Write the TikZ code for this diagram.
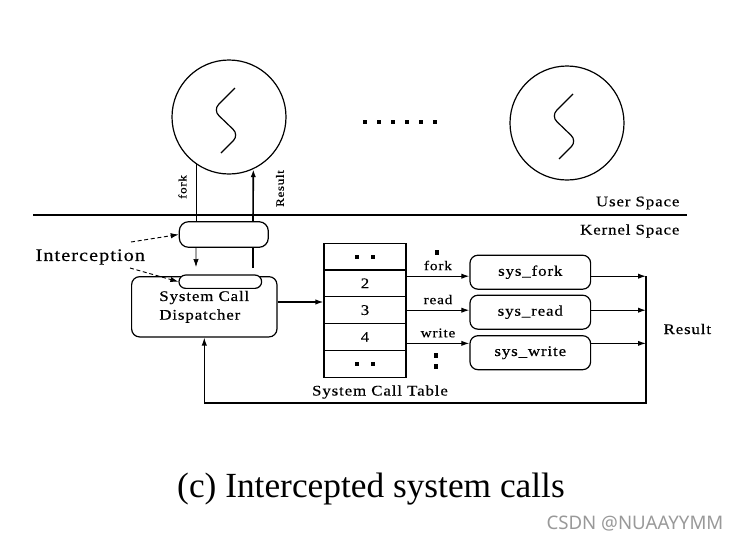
\documentclass[tikz,border=0pt]{standalone}
\usepackage{fontspec}
\setmainfont{Liberation Serif}
\newfontfamily\scanfont[LetterSpace=6,FakeStretch=1.15,FakeBold=0.5]{Liberation Serif}
\newfontfamily\markfont{Noto Sans}
\usetikzlibrary{arrows.meta}
\newcommand{\tabdots}{\rule{3pt}{3pt}\hspace{9pt}\rule{3pt}{3pt}}
\begin{document}
\begin{tikzpicture}[x=0.75pt, y=-0.75pt, line width=0.9pt,
  every node/.style={inner sep=0pt, font=\scanfont\fontsize{11}{14}\selectfont},
  arr/.style={-{Latex[length=6pt,width=4pt]}},
  dasharr/.style={densely dashed, line width=0.7pt, -{Latex[length=6pt,width=4pt]}},
  proc/.style={draw, circle, minimum size=85.5pt},
  rbox/.style={draw, fill=white, rounded corners=6pt},
  cell/.style={draw, minimum width=61.5pt, minimum height=20.1pt},
  sysbox/.style={rbox, minimum width=90.5pt, minimum height=25.5pt},
  small/.style={font=\scanfont\fontsize{8.5}{10}\selectfont},
  callname/.style={font=\scanfont\fontsize{10}{12}\selectfont}]
\useasboundingbox (0,0) rectangle (740,543);
\node[proc] (p1) at (229,117) {};
\node[proc] (p2) at (567,123) {};
\foreach \p in {p1,p2}
  \draw[rounded corners=6pt] (\p) ++(6,-29) -- ++(-22,22) -- ++(26,25) -- ++(-18,18);
\foreach \i in {0,...,5}
  \fill (365+14*\i,122) +(-2,-2) rectangle +(2,2);
\draw (33,215) -- (687,215);
\node[anchor=east] (user) at (680,203) {User Space};
\node[anchor=east] (kernel) at (680,231) {Kernel Space};
\node[rbox, rounded corners=7pt, minimum width=66.75pt, minimum height=19.2pt] (stub) at (223.8,234.5) {};
\node[rbox, minimum width=109pt, minimum height=45.2pt, align=left] (disp) at (204.3,306.8) {System Call\\Dispatcher};
\node[rbox, rounded corners=5pt, minimum width=62pt, minimum height=10pt] (hook) at (220.3,281.7) {};
\coordinate (forkend) at (196,267);
\coordinate (resstart) at (253,268);
\draw[line width=0.5pt] (p1.-125) -- (p1.-125 |- stub.north);
\draw[line width=0.5pt, arr] (p1.-125 |- stub.south) -- (forkend);
\draw[line width=1.2pt] (resstart) -- (resstart |- stub.south);
\draw[line width=1.2pt, arr] (resstart |- stub.north) -- (p1.-65);
\node[small, rotate=90] (forklbl) at (182.5,187) {fork};
\node[small, rotate=90] (reslbl) at (280,188.5) {Result};
\node[anchor=west, font=\scanfont\fontsize{13.2}{16}\selectfont] (icpt) at (35,257) {Interception};
\coordinate (ia) at (131,242);
\coordinate (ib) at (130,268);
\draw[dasharr] (ia) -- (stub.west);
\draw[dasharr] (ib) -- (hook.west);
\foreach \t [count=\i] in {\tabdots,2,3,4,\tabdots}
  \node[cell] (r\i) at (365,229.7+26.8*\i) {\t};
\node (tbllbl) at (380,392) {System Call Table};
\draw[arr] ([yshift=3.6pt]disp.east) -- ([yshift=3.6pt]disp.east -| r3.west);
\node[sysbox] (sysfork) at (530.3,272.2) {sys\_fork};
\node[sysbox] (sysread) at (530.3,312.2) {sys\_read};
\node[sysbox] (syswrite) at (530.3,352.7) {sys\_write};
\coordinate (fin) at ([yshift=-3pt]sysfork.west);
\coordinate (rin) at ([yshift=1.5pt]sysread.west);
\coordinate (win) at ([yshift=7pt]syswrite.west);
\coordinate (fout) at ([yshift=-3pt]sysfork.east);
\coordinate (rout) at ([yshift=1.5pt]sysread.east);
\coordinate (wout) at ([yshift=7pt]syswrite.east);
\draw[arr] (r2.east |- fin) -- node[callname, above=4pt] (lfork) {fork} (fin);
\draw[arr] (r3.east |- rin) -- node[callname, above=4pt] (lread) {read} (rin);
\draw[arr] (r4.east |- win) -- node[callname, above=4pt] (lwrite) {write} (win);
\fill (437,252) +(-2,-2.5) rectangle +(2,2.5);
\fill (436,355) +(-2,-2.5) rectangle +(2,2.5);
\fill (436,366) +(-2,-2.5) rectangle +(2,2.5);
\coordinate (rtop) at (646,276);
\coordinate (rbot) at (646,403);
\draw[arr] (fout) -- (fout -| rtop);
\draw[arr] (rout) -- (rout -| rtop);
\draw[arr] (wout) -- (wout -| rtop);
\draw[arr] (rtop) -- (rbot) -| (disp.south);
\node[anchor=west] (resout) at (663,329) {Result};
\node[font=\fontsize{26.5}{30}\selectfont, anchor=base] (caption) at (371,497) {(c) Intercepted system calls};
\node[font=\markfont\fontsize{14}{16}\selectfont, text=gray!80, anchor=base east] (mark) at (724,529) {CSDN @NUAAYYMM};
\end{tikzpicture}
\end{document}
